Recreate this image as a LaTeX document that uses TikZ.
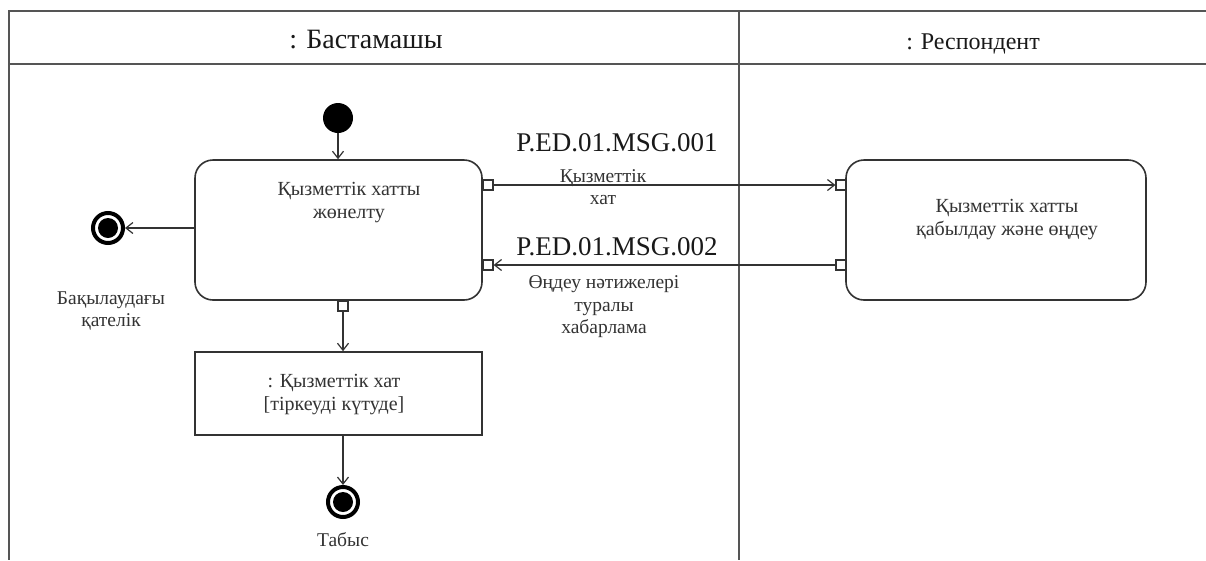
\documentclass[tikz,border=0pt]{standalone}
\usepackage{fontspec}
\setmainfont{Liberation Serif}
\usetikzlibrary{arrows.meta}
\definecolor{frameg}{HTML}{555555}
\definecolor{lineg}{HTML}{333333}
\tikzset{
  frameline/.style={draw=frameg, line width=2pt},
  actbox/.style={draw=lineg, line width=1.6pt, rounded corners=18pt, fill=white, inner sep=0pt},
  objbox/.style={draw=lineg, line width=1.6pt, fill=white, inner sep=0pt},
  pin/.style={draw=lineg, line width=1.2pt, fill=white, minimum size=10pt, inner sep=0pt},
  initnode/.style={circle, fill=black, minimum size=30pt, inner sep=0pt},
  finalnode/.style={circle, draw=black, line width=4pt, fill=white, minimum size=30pt, inner sep=0pt,
    path picture={\fill[black] (path picture bounding box.center) circle (10pt);}},
  flow/.style={draw=lineg, line width=1.3pt, -{Straight Barb[length=7pt,width=11pt,line width=1.2pt]}},
  txt/.style={inner sep=0pt, font=\fontsize{20}{23}\selectfont, text=black!80},
  lbl/.style={inner sep=0pt, font=\fontsize{19.5}{22.5}\selectfont, text=black!80},
  msgid/.style={inner sep=0pt, font=\fontsize{27}{30}\selectfont, text=black!90},
  hdr/.style={inner sep=0pt, font=\fontsize{28}{31}\selectfont, text=black!90}
}
\begin{document}
\begin{tikzpicture}[x=1pt,y=-1pt]
\useasboundingbox (0,0) rectangle (1206,560);
\fill[white] (0,0) rectangle (1206,560);
% swimlane frame
\draw[frameline] (1206,11) -- (9,11) -- (9,560);
\draw[frameline] (9,64) -- (1206,64);
\draw[frameline] (739,11) -- (739,560);
\node[hdr] (h1) at (366,40) {: Бастамашы};
\node[hdr, font=\fontsize{24}{27}\selectfont] (h2) at (973,44) {: Респондент};
% nodes
\node[initnode] (init) at (338,118) {};
\node[actbox, minimum width=287pt, minimum height=140pt] (send) at (338.5,230) {};
\node[txt, align=center] (sendt) at (349,203) {Қызметтік хатты\\жөнелту};
\node[actbox, minimum width=300pt, minimum height=140pt] (recv) at (996,230) {};
\node[txt, align=center] (recvt) at (1007,220) {Қызметтік хатты\\қабылдау және өңдеу};
\node[objbox, minimum width=287pt, minimum height=83pt] (obj) at (338.5,393.5) {};
\node[txt, align=center] (objt) at (334,395) {: Қызметтік хат\\{[}тіркеуді күтуде{]}};
\node[finalnode] (err) at (108,228) {};
\node[lbl, align=center] (errt) at (111,311) {Бақылаудағы\\қателік};
\node[finalnode] (succ) at (343,502) {};
\node[lbl] (succt) at (343,540) {Табыс};
% pins
\node[pin] (p1) at (488,185) {};
\node[pin] (p2) at (488,265) {};
\node[pin] (p3) at (343,306) {};
\node[pin] (q1) at (841,185) {};
\node[pin] (q2) at (841,265) {};
% flows
\draw[flow] (init.south) -- (init.south |- send.north);
\draw[flow] (send.west |- err) -- (err.east);
\draw[flow] (p3.south) -- (p3.south |- obj.north);
\draw[flow] (obj.south -| succ) -- (succ.north);
\draw[flow] (p1.east) -- (q1.west);
\draw[flow] (q2.west) -- (p2.east);
% message labels
\node[msgid] (m1) at (617,143) {P.ED.01.MSG.001};
\node[lbl, align=center] (m1t) at (603,187) {Қызметтік\\хат};
\node[msgid] (m2) at (617,247) {P.ED.01.MSG.002};
\node[lbl, align=center] (m2t) at (604,307) {Өңдеу нәтижелері\\туралы\\хабарлама};
\end{tikzpicture}
\end{document}
